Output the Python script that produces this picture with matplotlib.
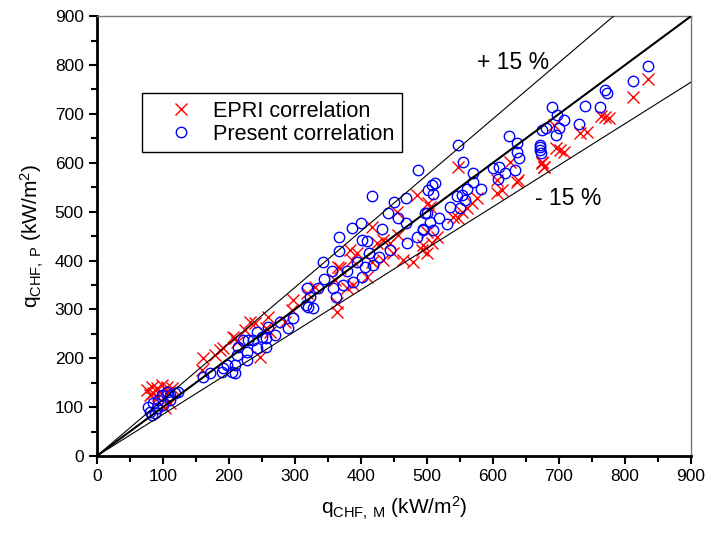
import matplotlib
matplotlib.use("Agg")
import matplotlib.pyplot as plt
from matplotlib.ticker import MultipleLocator

plt.rcParams['font.family'] = ['Liberation Sans', 'DejaVu Sans']
plt.rcParams['mathtext.default'] = 'regular'

# EPRI correlation (measured, predicted)
epri_x = [76, 83, 91, 98, 106, 114, 85, 95, 108, 103, 111, 80, 92,
          297, 295, 285, 259, 257, 232, 224, 209, 212, 206, 191, 186, 179, 161, 159, 247, 262, 239,
          485, 502, 455, 417, 433, 424, 444, 456, 383, 394, 386, 368, 365, 433, 448, 464, 479, 417,
          409, 388, 379, 361, 330, 318, 364, 364, 500, 494,
          547, 674, 677, 626, 638, 636, 614, 606, 576, 568, 561, 553, 539, 547, 515, 500, 508, 492, 505, 606,
          835, 812, 770, 776, 763, 732, 743, 692, 695, 702, 708, 674, 677]
epri_y = [135, 141, 139, 145, 141, 139, 129, 131, 131, 98, 108, 125, 121,
          319, 299, 274, 284, 262, 274, 258, 241, 233, 243, 221, 217, 207, 200, 176, 203, 254, 272,
          534, 517, 499, 468, 442, 436, 436, 452, 421, 415, 401, 385, 387, 401, 415, 401, 397, 397,
          366, 350, 344, 360, 346, 333, 313, 295, 415, 432,
          591, 599, 591, 601, 565, 560, 544, 538, 528, 517, 507, 499, 489, 487, 448, 458, 436, 421, 509, 565,
          771, 735, 693, 691, 696, 661, 663, 677, 630, 626, 622, 601, 591]

# Present correlation (measured, predicted)
pres_x = [77, 80, 88, 85, 92, 98, 106, 111, 118, 123, 100, 111, 91, 83,
          318, 320, 297, 289, 277, 270, 259, 257, 242, 250, 229, 236, 221, 242, 257, 227, 214, 212,
          209, 227, 197, 191, 189, 205, 209, 171, 161,
          486, 417, 450, 468, 441, 456, 468, 400, 386, 367, 402, 409, 432, 485, 470, 444, 427, 412,
          367, 342, 394, 418, 406, 356, 379, 402, 388, 373, 344, 335, 358, 362, 323, 317, 327, 500, 502, 494,
          547, 555, 624, 636, 636, 639, 671, 673, 680, 570, 570, 600, 609, 618, 633, 608, 508, 512, 509,
          561, 582, 545, 553, 558, 535, 550, 497, 505, 518, 530, 509, 494,
          835, 812, 770, 773, 740, 762, 690, 697, 708, 730, 674, 700, 695, 672, 672]
pres_y = [100, 90, 88, 108, 115, 125, 131, 125, 129, 131, 104, 115, 98, 84,
          344, 305, 282, 262, 274, 247, 264, 241, 254, 243, 237, 237, 237, 221, 223, 213, 223, 207,
          186, 196, 186, 180, 172, 172, 170, 170, 162,
          585, 532, 520, 528, 497, 487, 477, 477, 466, 448, 442, 440, 464, 448, 436, 421, 407, 415,
          419, 397, 397, 391, 387, 378, 378, 366, 356, 350, 362, 344, 344, 325, 325, 309, 303, 497, 544, 464,
          636, 601, 654, 640, 622, 610, 632, 620, 671, 579, 560, 589, 591, 579, 585, 567, 554, 558, 536,
          546, 546, 532, 534, 524, 509, 507, 497, 479, 487, 475, 462, 462,
          798, 767, 749, 742, 716, 714, 714, 697, 687, 679, 667, 671, 657, 636, 626]

lim = [0, 900]

fig = plt.figure(figsize=(7.12, 5.40), dpi=100)
ax = fig.add_axes([0.136, 0.1556, 0.8345, 0.8144])

# reference lines
ax.plot(lim, lim, color='black', lw=1.5, zorder=3)
ax.plot([0, 900 / 1.15], [0, 900], color='black', lw=0.8, zorder=3)
ax.plot([0, 900], [0, 900 * 0.85], color='black', lw=0.8, zorder=3)

ax.plot(epri_x, epri_y, linestyle='none', marker='x', color='red', ms=8, mew=1.0,
        label='EPRI correlation', zorder=2)
ax.plot(pres_x, pres_y, linestyle='none', marker='o', mfc='none', mec='blue', ms=7.5, mew=1.0,
        label='Present correlation', zorder=2)

ax.text(630, 806, '+ 15 %', fontsize=16.5, ha='center', va='center')
ax.text(714, 526, '- 15 %', fontsize=16.5, ha='center', va='center')

ax.set_xlim(lim)
ax.set_ylim(lim)
ax.xaxis.set_major_locator(MultipleLocator(100))
ax.yaxis.set_major_locator(MultipleLocator(100))
ax.xaxis.set_minor_locator(MultipleLocator(50))
ax.yaxis.set_minor_locator(MultipleLocator(50))
ax.tick_params(which='major', direction='out', length=6, width=1.5, labelsize=12.5)
ax.tick_params(which='minor', direction='out', length=4, width=1.5)
ax.tick_params(top=False, right=False, which='both')

for s in ['left', 'bottom']:
    ax.spines[s].set_linewidth(2)
    ax.spines[s].set_color('black')
for s in ['top', 'right']:
    ax.spines[s].set_linewidth(1)
    ax.spines[s].set_color('#777777')

ax.set_xlabel(r'q$_{\mathregular{CHF,\,M}}$ (kW/m$^{\mathregular{2}}$)', fontsize=15, labelpad=8)
ax.set_ylabel(r'q$_{\mathregular{CHF,\,P}}$ (kW/m$^{\mathregular{2}}$)', fontsize=15, labelpad=6)

leg = ax.legend(loc='upper left', bbox_to_anchor=(0.0758, 0.825), borderaxespad=0,
                fontsize=15.6, fancybox=False, edgecolor='black', framealpha=1,
                handletextpad=0.05, borderpad=0.35, labelspacing=0.1, handlelength=2.9)
leg.get_frame().set_linewidth(1)

fig.savefig('out.png', dpi=100)
